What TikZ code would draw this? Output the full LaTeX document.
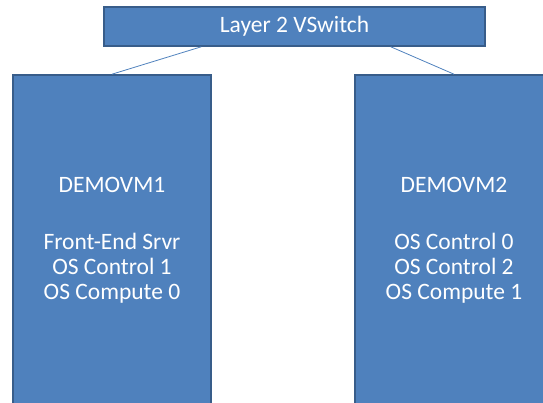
\documentclass[tikz,border=0pt]{standalone}
\usepackage{fontspec}
\setmainfont{Carlito}
\definecolor{boxblue}{HTML}{4F81BD}
\definecolor{boxedge}{HTML}{385D8A}
\tikzset{
  vmbox/.style={draw=boxedge, line width=1.6pt, fill=boxblue, text=white,
    align=center, inner sep=0pt,
    font=\fontsize{23.5}{25}\selectfont},
  link/.style={draw=boxblue, line width=0.8pt}
}
\begin{document}
\begin{tikzpicture}[x=1pt,y=1pt]
  \useasboundingbox (0,0) rectangle (543,402);
  \clip (0,0) rectangle (543,402);
  % switch on top
  \node[vmbox, minimum width=381pt, minimum height=39pt] (switch) at (294.5,375.5) {Layer 2 VSwitch};
  % the two VMs
  \node[vmbox, minimum width=198pt, minimum height=330pt] (vm1) at (112,162)
    {DEMOVM1\\[32pt]Front-End Srvr\\OS Control 1\\OS Compute 0};
  \node[vmbox, minimum width=198pt, minimum height=330pt] (vm2) at (454,162)
    {DEMOVM2\\[32pt]OS Control 0\\OS Control 2\\OS Compute 1};
  % links
  \draw[link] ([xshift=98pt]switch.south west) -- (vm1.north);
  \draw[link] ([xshift=-95pt]switch.south east) -- (vm2.north);
\end{tikzpicture}
\end{document}
